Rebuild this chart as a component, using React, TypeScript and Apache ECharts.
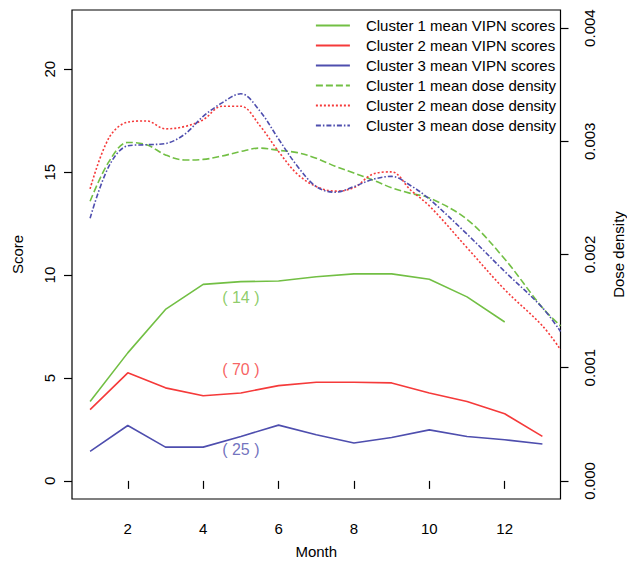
import { useEffect, useRef } from 'react';
import * as echarts from 'echarts';

// Months for the VIPN scores
const months = [1, 2, 3, 4, 5, 6, 7, 8, 9, 10, 11, 12, 13];
const vipn1 = [3.86, 6.22, 8.33, 9.55, 9.68, 9.71, 9.92, 10.06, 10.06, 9.8, 8.94, 7.72];
const vipn2 = [3.46, 5.25, 4.52, 4.14, 4.27, 4.63, 4.79, 4.79, 4.76, 4.27, 3.86, 3.26, 2.16];
const vipn3 = [1.43, 2.69, 1.64, 1.64, 2.16, 2.71, 2.24, 1.84, 2.11, 2.48, 2.16, 2.0, 1.79];

// Months at which the dose-density curves were read
const ddMonths = [1, 1.5, 2, 2.5, 3, 3.5, 4, 4.5, 5, 5.5, 6, 6.5, 7, 7.5, 8, 8.5, 9, 9.5, 10, 11, 12, 13, 13.48];
const dose1 = [0.00247, 0.00282, 0.00299, 0.00297, 0.00288, 0.002835, 0.00284, 0.00287, 0.00291, 0.00294, 0.00292, 0.0029, 0.00285, 0.00278, 0.00272, 0.002658, 0.00259, 0.00254, 0.0025, 0.00231, 0.00196, 0.00153, 0.00137];
const dose2 = [0.00258, 0.00303, 0.00317, 0.00318, 0.00311, 0.00313, 0.00319, 0.00331, 0.00331, 0.00314, 0.00291, 0.00271, 0.0026, 0.00256, 0.00259, 0.00271, 0.00273, 0.00257, 0.00243, 0.00206, 0.00169, 0.00137, 0.00116];
const dose3 = [0.00232, 0.00278, 0.00296, 0.00297, 0.00298, 0.00306, 0.00322, 0.00334, 0.00342, 0.00327, 0.00302, 0.00278, 0.0026, 0.00255, 0.0026, 0.002664, 0.00269, 0.00261, 0.00249, 0.00218, 0.00185, 0.00153, 0.00132];

// Cluster size annotations
const annoX = [5, 5, 5];
const annoY = [8.91, 5.41, 1.51];
const annoText = ['( 14 )', '( 70 )', '( 25 )'];

// Tick labels
const xTicks = [2, 4, 6, 8, 10, 12];
const scoreTicks = [0, 5, 10, 15, 20];
const doseTicks = [0, 0.001, 0.002, 0.003, 0.004];

const seriesNames = [
  'Cluster 1 mean VIPN scores',
  'Cluster 2 mean VIPN scores',
  'Cluster 3 mean VIPN scores',
  'Cluster 1 mean dose density',
  'Cluster 2 mean dose density',
  'Cluster 3 mean dose density',
];

const GREEN = '#72bf44';
const RED = '#f53a3a';
const BLUE = '#4e4eae';
const FONT = '"Liberation Sans", Arial, sans-serif';

const pairs = (xs: number[], ys: number[]) => ys.map((y, i) => [xs[i], y]);

export default function App() {
  const ref = useRef<HTMLDivElement>(null);
  useEffect(() => {
    const chart = echarts.init(ref.current!, null, { renderer: 'svg' });
    const axisText = { color: '#000', fontSize: 15, fontFamily: FONT };
    const tickStyle = { color: '#000', width: 1.2 };
    const option: any = {
      animation: false,
      backgroundColor: '#fff',
      textStyle: { fontFamily: FONT },
      grid: {
        left: 72,
        right: 66.5,
        top: 10,
        bottom: 64,
        outerBoundsMode: 'none',
        containLabel: false,
        show: true,
        borderColor: '#000',
        borderWidth: 1.2,
        backgroundColor: 'transparent',
      },
      legend: {
        orient: 'vertical',
        right: 71,
        top: 18,
        padding: 0,
        itemWidth: 34,
        itemHeight: 14,
        itemGap: 5,
        selectedMode: false,
        data: seriesNames,
        itemStyle: { opacity: 0 },
        textStyle: { ...axisText, padding: [0, 0, 0, 11] },
      },
      xAxis: {
        type: 'value',
        min: 0.52,
        max: 13.48,
        name: 'Month',
        nameLocation: 'middle',
        nameGap: 45,
        nameTextStyle: axisText,
        axisLine: { show: false },
        axisTick: { show: true, inside: false, length: 8, customValues: xTicks, lineStyle: tickStyle },
        axisLabel: { ...axisText, margin: 22, customValues: xTicks },
        splitLine: { show: false },
      },
      yAxis: [
        {
          type: 'value',
          min: -0.88,
          max: 22.88,
          name: 'Score',
          nameLocation: 'middle',
          nameRotate: 90,
          nameGap: 47,
          nameTextStyle: axisText,
          axisLine: { show: false },
          axisTick: { show: true, inside: false, length: 8, customValues: scoreTicks, lineStyle: tickStyle },
          axisLabel: { ...axisText, rotate: 90, margin: 15, customValues: scoreTicks },
          splitLine: { show: false },
        },
        {
          type: 'value',
          position: 'right',
          min: -0.00016,
          max: 0.00416,
          name: 'Dose density',
          nameLocation: 'middle',
          nameRotate: 90,
          nameGap: 50,
          nameTextStyle: axisText,
          axisLine: { show: false },
          axisTick: { show: true, inside: false, length: 8, customValues: doseTicks, lineStyle: tickStyle },
          axisLabel: {
            ...axisText,
            rotate: 90,
            margin: 21,
            customValues: doseTicks,
            formatter: (v: number) => v.toFixed(3),
          },
          splitLine: { show: false },
        },
      ],
      series: [
        {
          name: seriesNames[0],
          type: 'line',
          symbol: 'none',
          data: pairs(months, vipn1),
          lineStyle: { color: GREEN, width: 1.6 },
          itemStyle: { color: GREEN },
        },
        {
          name: seriesNames[1],
          type: 'line',
          symbol: 'none',
          data: pairs(months, vipn2),
          lineStyle: { color: RED, width: 1.6 },
          itemStyle: { color: RED },
        },
        {
          name: seriesNames[2],
          type: 'line',
          symbol: 'none',
          data: pairs(months, vipn3),
          lineStyle: { color: BLUE, width: 1.6 },
          itemStyle: { color: BLUE },
        },
        {
          name: seriesNames[3],
          type: 'line',
          yAxisIndex: 1,
          symbol: 'none',
          smooth: 0.35,
          data: pairs(ddMonths, dose1),
          lineStyle: { color: GREEN, width: 1.6, type: [7, 3] },
          itemStyle: { color: GREEN },
        },
        {
          name: seriesNames[4],
          type: 'line',
          yAxisIndex: 1,
          symbol: 'none',
          smooth: 0.35,
          data: pairs(ddMonths, dose2),
          lineStyle: { color: RED, width: 1.6, type: [2, 2] },
          itemStyle: { color: RED },
        },
        {
          name: seriesNames[5],
          type: 'line',
          yAxisIndex: 1,
          symbol: 'none',
          smooth: 0.35,
          data: pairs(ddMonths, dose3),
          lineStyle: { color: BLUE, width: 1.6, type: [5, 2, 1.5, 2] },
          itemStyle: { color: BLUE },
        },
        {
          name: 'annotations',
          type: 'scatter',
          symbolSize: 1,
          itemStyle: { color: 'rgba(0,0,0,0)' },
          silent: true,
          data: annoText.map((t, i) => ({
            value: [annoX[i], annoY[i]],
            label: {
              show: true,
              position: 'inside',
              formatter: t,
              fontSize: 16,
              fontFamily: FONT,
              color: [GREEN, RED, BLUE][i],
            },
          })),
        },
      ],
    };
    chart.setOption(option);
    return () => chart.dispose();
  }, []);
  return (
    <div
      ref={ref}
      style={{ position: 'absolute', left: 0, top: 0, width: 627, height: 563, background: '#fff' }}
    />
  );
}
